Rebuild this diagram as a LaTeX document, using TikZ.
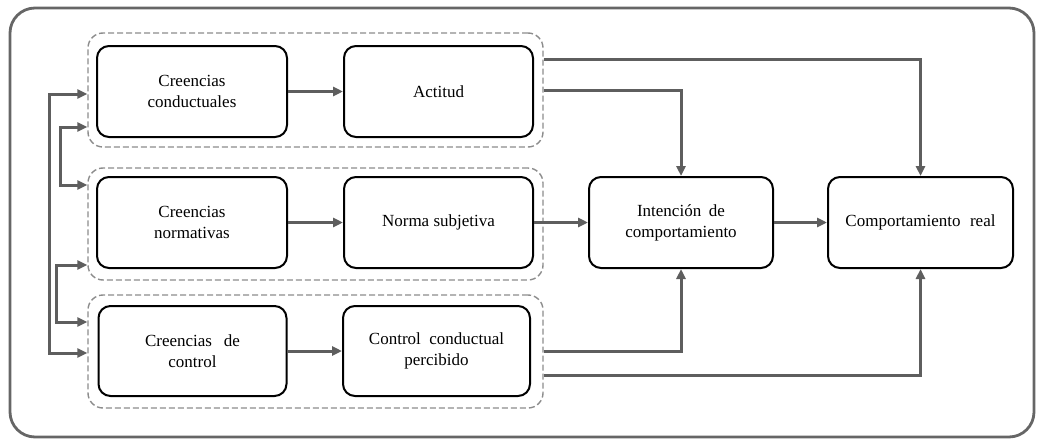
\documentclass[tikz,border=0pt]{standalone}
\usepackage{fontspec}
\setmainfont{Liberation Serif}
\usetikzlibrary{arrows.meta}
\definecolor{arrgray}{HTML}{5E5E5E}
\definecolor{dashgray}{HTML}{8C8C8C}
\definecolor{framegray}{HTML}{666666}
\begin{document}
\begin{tikzpicture}[x=1pt,y=-1pt,
  box/.style={draw=black, line width=2pt, rounded corners=12pt, align=center,
    inner sep=0pt, font=\fontsize{17}{21}\selectfont},
  grp/.style={draw=dashgray, line width=1.4pt, dash pattern=on 6pt off 3pt,
    rounded corners=15pt, inner sep=0pt},
  arr/.style={draw=arrgray, line width=3pt, -{Triangle[length=10pt,width=9pt]}},
  darr/.style={draw=arrgray, line width=3pt, {Triangle[length=10pt,width=9pt]}-{Triangle[length=10pt,width=9pt]}}
]
\useasboundingbox (0,0) rectangle (1037,439);
\draw[framegray, line width=2.8pt, rounded corners=25pt] (10,8) rectangle (1034,437);

% groups
\node[grp, minimum width=455pt, minimum height=114pt] (g1) at (315.5,90) {};
\node[grp, minimum width=455pt, minimum height=112pt] (g2) at (315.5,224) {};
\node[grp, minimum width=455pt, minimum height=113pt] (g3) at (315.5,351.5) {};

% boxes
\node[box, minimum width=190pt, minimum height=91pt] (cc) at (192,91.5) {Creencias\\conductuales};
\node[box, minimum width=189pt, minimum height=91pt] (act) at (438.5,91.5) {Actitud};
\node[box, minimum width=190pt, minimum height=91pt] (cn) at (192,222.5) {Creencias\\normativas};
\node[box, minimum width=189pt, minimum height=91pt] (ns) at (438.5,222.5) {Norma subjetiva};
\node[box, minimum width=188pt, minimum height=90pt] (cdc) at (192.5,351) {Creencias\hspace{0.7em}de\\control};
\node[box, minimum width=187pt, minimum height=90pt] (ccp) at (436.5,351) {Control\hspace{0.5em}conductual\\percibido};
\node[box, minimum width=184pt, minimum height=91pt] (int) at (681,222.5) {Intención\hspace{0.45em}de\\comportamiento};
\node[box, minimum width=185pt, minimum height=91pt] (comp) at (920.5,222.5) {Comportamiento\hspace{0.55em}real};

% row arrows
\draw[arr] (cc.east) -- (act.west);
\draw[arr] (cn.east) -- (ns.west);
\draw[arr] (cdc.east) -- (ccp.west);
\draw[arr] (ns.east) -- (int.west);
\draw[arr] (int.east) -- (comp.west);

% group-to-target arrows
\draw[arr] ([yshift=31pt]g1.east) -| (comp.north);
\draw[arr] (g1.east) -| (int.north);
\draw[arr] (g3.east) -| (int.south);
\draw[arr] ([yshift=-23.5pt]g3.east) -| (comp.south);

% left feedback arrows
\draw[darr] ([yshift=-4pt]g1.west) -- ++(-38,0) |- ([yshift=-1.5pt]g3.west);
\draw[darr] ([yshift=-37pt]g1.west) -- ++(-27,0) |- ([yshift=39pt]g2.west);
\draw[darr] ([yshift=-41pt]g2.west) -- ++(-31,0) |- ([yshift=29.5pt]g3.west);
\end{tikzpicture}
\end{document}
